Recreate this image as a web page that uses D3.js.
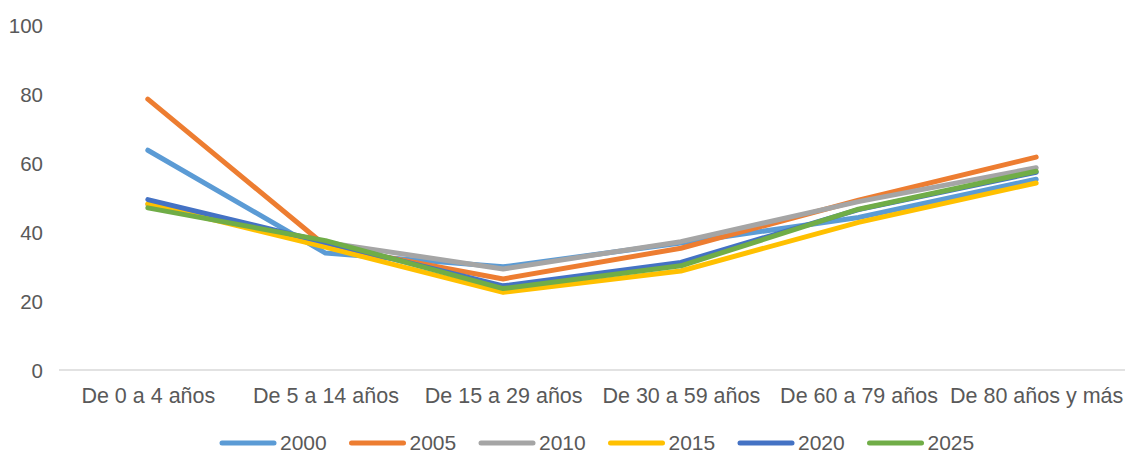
<!DOCTYPE html>
<html>
<head>
<meta charset="utf-8">
<script src="https://cdn.jsdelivr.net/npm/d3@7"></script>
<style>
html,body{margin:0;padding:0;background:#fff;}
svg text{font-family:"Liberation Sans",Arial,sans-serif;fill:#595959;}
</style>
</head>
<body>
<svg id="chart" width="1125" height="452"></svg>
<script>
const categories = ["De 0 a 4 años","De 5 a 14 años","De 15 a 29 años","De 30 a 59 años","De 60 a 79 años","De 80 años y más"];
const seriesNames = ["2000","2005","2010","2015","2020","2025"];
const v2000 = [63.7, 33.9, 29.9, 36.8, 44.2, 55.3];
const v2005 = [78.5, 36.0, 26.4, 35.3, 49.2, 61.7];
const v2010 = [48.0, 37.0, 29.3, 37.2, 48.8, 58.6];
const v2015 = [48.2, 35.6, 22.5, 28.7, 42.8, 54.2];
const v2020 = [49.4, 37.0, 24.4, 31.2, 46.5, 57.3];
const v2025 = [47.0, 37.5, 23.6, 30.2, 46.6, 57.6];
const yTicks = [0,20,40,60,80,100];
const colors = ["#5B9BD5","#ED7D31","#A5A5A5","#FFC000","#4472C4","#70AD47"];

const series = [v2000,v2005,v2010,v2015,v2020,v2025].map((vals,i)=>({name:seriesNames[i],values:vals,color:colors[i]}));

const svg = d3.select("#chart");
const x = d3.scalePoint().domain(categories).range([59, 1125]).padding(0.5);
const y = d3.scaleLinear().domain([0,100]).range([370, 25]);

// baseline
svg.append("line").attr("x1",59).attr("x2",1125).attr("y1",y(0)).attr("y2",y(0))
  .attr("stroke","#D9D9D9").attr("stroke-width",1.3);

// y axis labels
const yAxis = d3.axisLeft(y).tickValues(yTicks).tickSize(0).tickPadding(0);
const yg = svg.append("g").attr("transform","translate(43,0)").call(yAxis);
yg.select(".domain").remove();
yg.selectAll("text").attr("font-size","20.5px").attr("dy","0.35em").style("fill","#595959")
  .attr("font-family","Liberation Sans, Arial, sans-serif");

// x axis labels
const xAxis = d3.axisBottom(x).tickSize(0).tickPadding(0);
const xg = svg.append("g").attr("transform","translate(0,388)").call(xAxis);
xg.select(".domain").remove();
xg.selectAll("text").attr("font-size","21.5px").attr("dy","0.71em").style("fill","#595959")
  .attr("font-family","Liberation Sans, Arial, sans-serif");

const line = d3.line().x((d,i)=>x(categories[i])).y(d=>y(d));
svg.append("g").selectAll("path").data(series).join("path")
  .attr("d",d=>line(d.values)).attr("fill","none").attr("stroke",d=>d.color)
  .attr("stroke-width",5).attr("stroke-linecap","round").attr("stroke-linejoin","round");

// legend
const legend = svg.append("g").attr("transform","translate(222,443)");
const item = legend.selectAll("g").data(series).join("g")
  .attr("transform",(d,i)=>`translate(${i*129.5},0)`);
item.append("line").attr("x1",0).attr("x2",52).attr("y1",0).attr("y2",0)
  .attr("stroke",d=>d.color).attr("stroke-width",5).attr("stroke-linecap","round");
item.append("text").attr("x",58).attr("y",0).attr("dy","0.35em").attr("font-size","21px").text(d=>d.name);
</script>
</body>
</html>
